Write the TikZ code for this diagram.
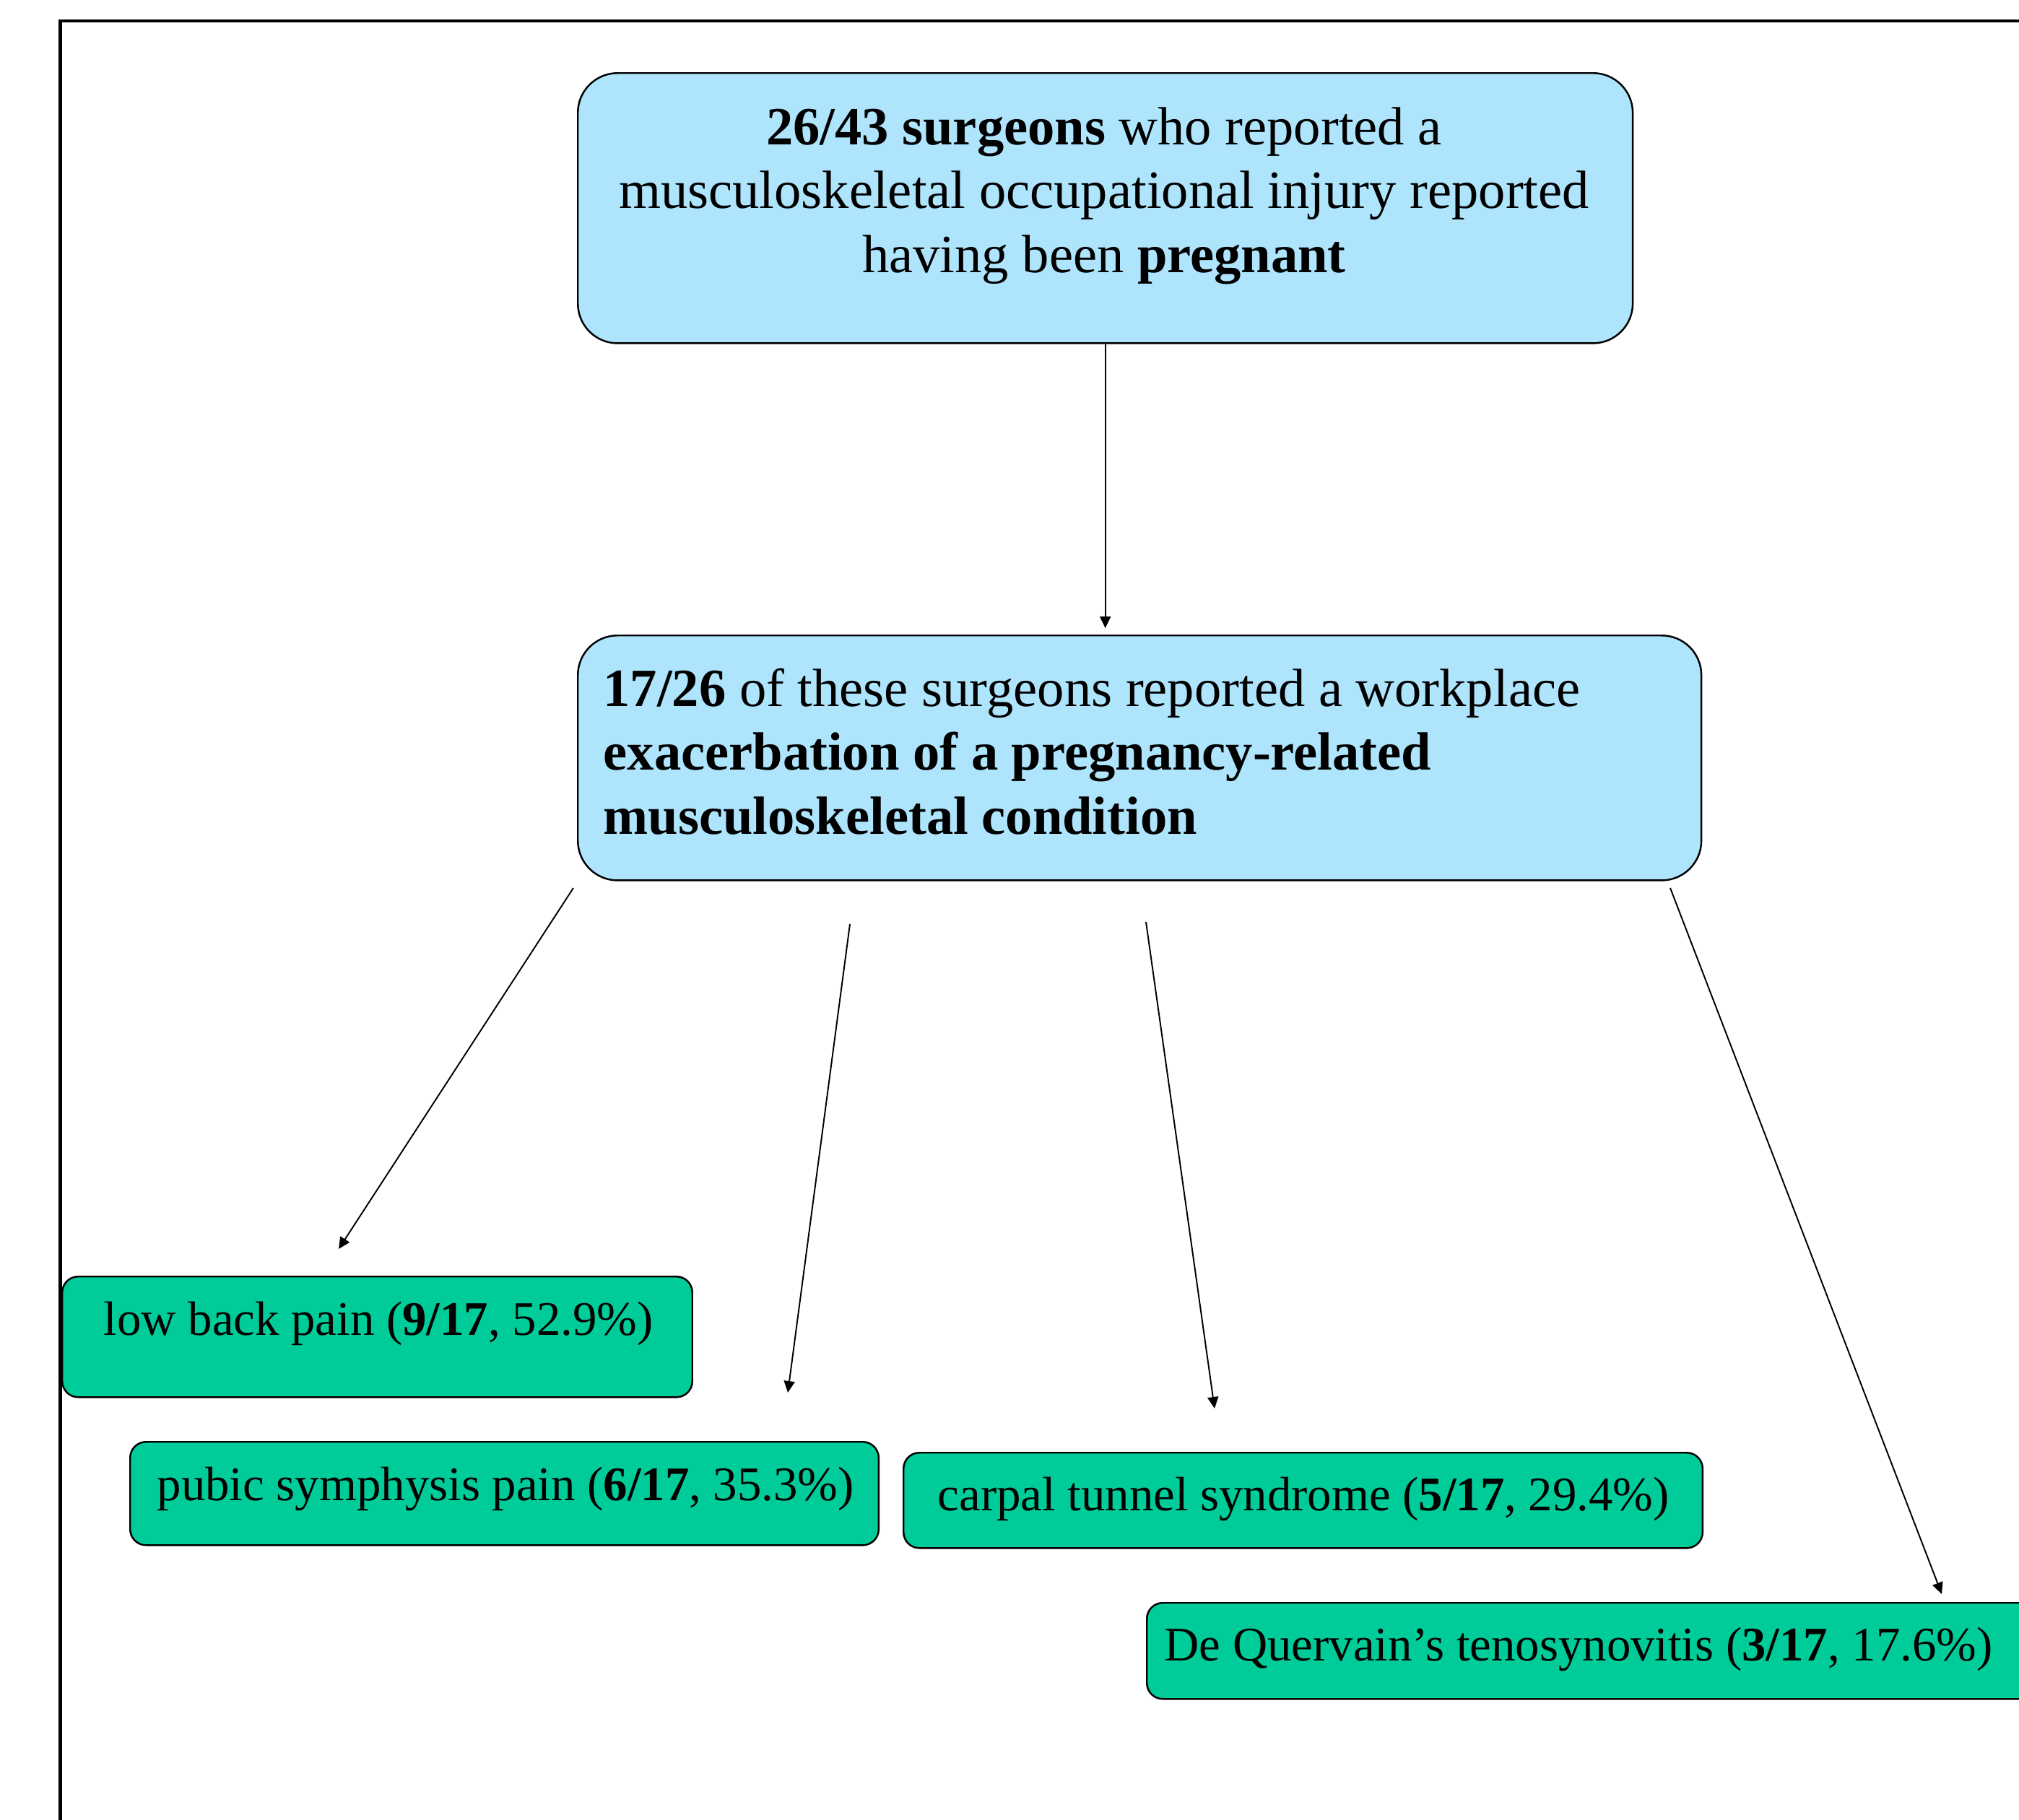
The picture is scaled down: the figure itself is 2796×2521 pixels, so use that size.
\documentclass[tikz,border=0pt]{standalone}
\usepackage{fontspec}
\setmainfont{Liberation Serif}
\usetikzlibrary{arrows.meta}
\definecolor{boxblue}{RGB}{174,228,252}
\definecolor{boxgreen}{RGB}{0,204,153}
\begin{document}
\begin{tikzpicture}[x=0.01cm,y=-0.01cm,
  bluebox/.style={draw=black,line width=0.7pt,fill=boxblue,rounded corners=0.55cm,anchor=north west,inner sep=0pt},
  greenbox/.style={draw=black,line width=0.7pt,fill=boxgreen,rounded corners=0.22cm,anchor=north west,inner sep=0pt},
  conn/.style={line width=0.55pt,-{Triangle[length=0.16cm,width=0.15cm]}},
  bigtxt/.style={inner sep=0pt,font=\fontsize{21.2}{25.3}\selectfont},
  smalltxt/.style={inner sep=0pt,anchor=base west,font=\fontsize{19}{22.8}\selectfont}]
\useasboundingbox (0,0) rectangle (2796,2521);
\clip (0,0) rectangle (2796,2521);
\draw[line width=1.42pt] (83.5,29) rectangle (2950,2700);
% boxes
\node[bluebox,minimum width=14.6cm,minimum height=3.74cm] (top) at (799,100) {};
\node[bluebox,minimum width=15.55cm,minimum height=3.39cm] (mid) at (799,879) {};
\node[greenbox,minimum width=8.72cm,minimum height=1.67cm] (lbp) at (85,1767) {};
\node[greenbox,minimum width=10.36cm,minimum height=1.43cm] (psp) at (179,1996) {};
\node[greenbox,minimum width=11.06cm,minimum height=1.32cm] (cts) at (1250,2011) {};
\node[greenbox,minimum width=12.63cm,minimum height=1.33cm] (dqt) at (1587,2219) {};
% texts
\node[bigtxt,anchor=base] (toptxt) at (1529,200) {\parbox[t]{14.2cm}{\centering\textbf{26/43 surgeons} who reported a\\ musculoskeletal occupational injury reported\\ having been \textbf{pregnant}}};
\node[bigtxt,anchor=base west] (midtxt) at (835,978) {\parbox[t]{15cm}{\raggedright\textbf{17/26} of these surgeons reported a workplace\\ \textbf{exacerbation of a pregnancy-related}\\ \textbf{musculoskeletal condition}}};
\node[smalltxt] (lbptxt) at (143,1849) {low back pain (\textbf{9/17}, 52.9\%)};
\node[smalltxt] (psptxt) at (217,2078) {pubic symphysis pain (\textbf{6/17}, 35.3\%)};
\node[smalltxt] (ctstxt) at (1298,2092) {carpal tunnel syndrome (\textbf{5/17}, 29.4\%)};
\node[smalltxt] (dqttxt) at (1612,2300) {De Quervain’s tenosynovitis (\textbf{3/17}, 17.6\%)};
% connector end points
\coordinate (a1s) at (794,1230);
\coordinate (a1e) at (469,1730);
\coordinate (a2s) at (1177,1280);
\coordinate (a2e) at (1091,1929);
\coordinate (a3s) at (1587,1277);
\coordinate (a3e) at (1682,1951);
\coordinate (a4s) at (2313,1230);
\coordinate (a4e) at (2689,2208);
% connectors
\draw[conn,shorten >=0.09cm] (top.south) -- (top.south |- mid.north);
\draw[conn] (a1s) -- (a1e);
\draw[conn] (a2s) -- (a2e);
\draw[conn] (a3s) -- (a3e);
\draw[conn] (a4s) -- (a4e);
\end{tikzpicture}
\end{document}
